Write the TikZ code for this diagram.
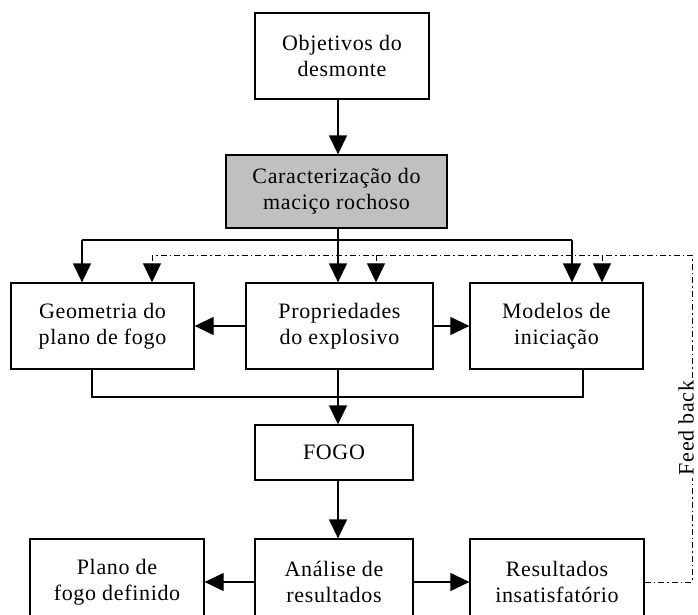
\documentclass[tikz,border=0pt]{standalone}
\usepackage{fontspec}
\setmainfont[LetterSpace=3]{Liberation Serif}
\usetikzlibrary{arrows.meta}
\definecolor{boxgray}{RGB}{192,192,192}

\begin{document}
\begin{tikzpicture}[x=1pt,y=-1pt,
  box/.style={draw=black, line width=1.3pt, inner sep=0pt, align=center,
    font=\fontsize{22}{26}\selectfont},
  wire/.style={draw=black, line width=1.3pt},
  link/.style={wire, -{Triangle[length=19pt,width=18pt]}},
  fb/.style={draw=black, line width=1pt, dash pattern=on 6pt off 3pt on 1.5pt off 3pt},
  fblink/.style={fb, -{Triangle[length=19pt,width=18pt]}}]

\useasboundingbox (0,0) rectangle (698,615);
\clip (0,0) rectangle (698,615);
\fill[white] (0,0) rectangle (698,615);

% main boxes
\node[box, minimum width=174pt, minimum height=86pt] (obj) at (342,56) {Objetivos do\\desmonte};
\node[box, fill=boxgray, minimum width=221pt, minimum height=73pt] (carac) at (336.5,191.5) {Caracterização do\\maciço rochoso};
\node[box, minimum width=183pt, minimum height=86pt] (geo) at (102.5,326) {Geometria do\\plano de fogo};
\node[box, minimum width=187pt, minimum height=86pt] (prop) at (339.5,326) {Propriedades\\do explosivo};
\node[box, minimum width=173pt, minimum height=86pt] (mod) at (556.5,326) {Modelos de\\iniciação};
\node[box, minimum width=158pt, minimum height=55pt] (fogo) at (334,452.5) {FOGO};
\node[box, minimum width=174pt, minimum height=86pt] (plano) at (117,582) {Plano de\\fogo definido};
\node[box, minimum width=158pt, minimum height=86pt] (anal) at (334,582) {Análise de\\resultados};
\node[box, minimum width=174pt, minimum height=86pt] (res) at (557,582) {Resultados\\insatisfatório};

% feedback label
\node[rotate=90, inner sep=3pt, font=\fontsize{22}{26}\selectfont] (fbl) at (686,428) {Feed back};

% routing points
\coordinate (spine) at (338,0);
\coordinate (busL) at (82,240);
\coordinate (busR) at (572,240);
\coordinate (colL) at (92,397);
\coordinate (colR) at (583,397);
\coordinate (fbTop) at (692,255);
\coordinate (fbG) at (152,255);
\coordinate (fbP) at (376,255);
\coordinate (fbM) at (602,255);

% main flow
\draw[link] (obj.south -| spine) -- (carac.north -| spine);
\draw[link] (carac.south -| spine) -- (prop.north -| spine);
\draw[wire] (busL) -- (busR);
\draw[link] (busL) -- (geo.north -| busL);
\draw[link] (busR) -- (mod.north -| busR);
\draw[link] (prop.west) -- (geo.east);
\draw[link] (prop.east) -- (mod.west);
\draw[wire] (geo.south -| colL) -- (colL) -- (colR) -- (mod.south -| colR);
\draw[link] (prop.south -| spine) -- (fogo.north -| spine);
\draw[link] (fogo.south -| spine) -- (anal.north -| spine);
\draw[link] (anal.west) -- (plano.east);
\draw[link] (anal.east) -- (res.west);

% feedback loop
\draw[fb] (res.east) -- (res.east -| fbTop) -- (fbl.west -| fbTop);
\draw[fb] (fbl.east -| fbTop) -- (fbTop) -- (fbG);
\draw[fblink] (fbG) -- (geo.north -| fbG);
\draw[fblink] (fbP) -- (prop.north -| fbP);
\draw[fblink] (fbM) -- (mod.north -| fbM);
\end{tikzpicture}
\end{document}
